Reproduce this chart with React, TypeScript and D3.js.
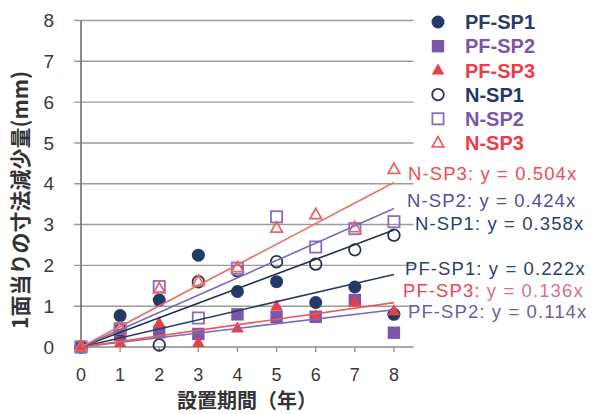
import React from 'react';
import * as d3 from 'd3';

const years = [0, 1, 2, 3, 4, 5, 6, 7, 8];
const pfSp1 = [0, 0.77, 1.15, 2.25, 1.36, 1.6, 1.09, 1.47, 0.8];
const pfSp2 = [0, 0.3, 0.36, 0.32, 0.8, 0.74, 0.74, 1.15, 0.35];
const pfSp3 = [0, 0.1, 0.58, 0.1, 0.46, 1.0, 0.76, 1.1, 0.88];
const nSp1 = [0, 0.42, 0.05, 1.6, 1.87, 2.09, 2.03, 2.38, 2.74];
const nSp2 = [0, 0.45, 1.48, 0.71, 1.93, 3.19, 2.45, 2.9, 3.07];
const nSp3 = [0, 0.45, 1.42, 1.6, 1.94, 2.91, 3.24, 2.92, 4.35];
const seriesNames = ['PF-SP1', 'PF-SP2', 'PF-SP3', 'N-SP1', 'N-SP2', 'N-SP3'];
const seriesValues = [pfSp1, pfSp2, pfSp3, nSp1, nSp2, nSp3];
const slopes = [0.222, 0.114, 0.136, 0.358, 0.424, 0.504];
const yTicks = [0, 1, 2, 3, 4, 5, 6, 7, 8];
const xTicks = [0, 1, 2, 3, 4, 5, 6, 7, 8];

const markerShape = ['circle', 'square', 'triangle', 'circle', 'square', 'triangle'];
const markerFilled = [true, true, true, false, false, false];
const markerColor = ['#233a68', '#7b57a8', '#ea3f48', '#2c3548', '#8a6cc2', '#ea6466'];
const legendColor = ['#2b3a6a', '#7a56a8', '#ec3c48', '#27366a', '#7a56a8', '#ec3c48'];
const lineColor = ['#2a3a5c', '#7b6ab8', '#ea5a5a', '#25324c', '#7a6ab6', '#ec6e6a'];
const eqColor = ['#2d3f6c', '#6b5fa2', '#ec4650', '#2d3f6c', '#574e94', '#ec4e54'];
// label positions: [x start, baseline]
const eqPos: [number, number][] = [
  [405, 275],
  [408, 318],
  [403, 297],
  [415, 230],
  [407, 207],
  [408, 180],
];

function Marker({ shape, filled, color, cx, cy }: any) {
  const s = 6.2;
  const fill = filled ? color : 'none';
  const stroke = color;
  const sw = filled ? 0 : 1.8;
  if (shape === 'circle') {
    return <circle cx={cx} cy={cy} r={filled ? 6.5 : 5.8} fill={fill} stroke={stroke} strokeWidth={sw} />;
  }
  if (shape === 'square') {
    const h = filled ? s : s - 0.6;
    return <rect x={cx - h} y={cy - h} width={2 * h} height={2 * h} fill={fill} stroke={stroke} strokeWidth={sw} />;
  }
  const r = filled ? 7 : 6.4;
  const pts = [
    [cx, cy - r],
    [cx + r * 0.9, cy + r * 0.6],
    [cx - r * 0.9, cy + r * 0.6],
  ];
  return <polygon points={pts.map((p) => p.join(',')).join(' ')} fill={fill} stroke={stroke} strokeWidth={sw} strokeLinejoin="miter" />;
}

export default function App() {
  const x = d3.scaleLinear().domain([0, 8.5]).range([81, 413.5]);
  const y = d3.scaleLinear().domain([0, 8]).range([347, 20.5]);
  const font = '"Liberation Sans", Arial, sans-serif';
  const cjk = '"Noto Sans CJK JP", sans-serif';

  return (
    <svg width={591} height={414} style={{ position: 'absolute', left: 0, top: 0, background: '#fff' }}>
      {/* gridlines */}
      {yTicks.filter((t) => t > 0).map((t) => (
        <line key={'g' + t} x1={74} x2={x(8.5)} y1={y(t)} y2={y(t)} stroke="#9a9a9a" strokeWidth={1.4} />
      ))}
      {/* axes */}
      <line x1={x(0)} x2={x(0)} y1={y(8)} y2={y(0)} stroke="#707070" strokeWidth={1.6} />
      <line x1={74} x2={x(8.5)} y1={y(0)} y2={y(0)} stroke="#8a8a8a" strokeWidth={1.5} />
      {xTicks.map((t) => (
        <line key={'xt' + t} x1={x(t)} x2={x(t)} y1={y(0)} y2={y(0) + 5} stroke="#8a8a8a" strokeWidth={1.3} />
      ))}
      {/* y tick labels */}
      {yTicks.map((t) => (
        <text key={'yl' + t} x={54} y={y(t)} dy="0.35em" textAnchor="end" fontFamily={font} fontSize={19} fill="#3a3a3a">
          {t}
        </text>
      ))}
      {/* x tick labels */}
      {xTicks.map((t) => (
        <text key={'xl' + t} x={x(t)} y={381} textAnchor="middle" fontFamily={font} fontSize={18} fill="#3a3a3a">
          {t}
        </text>
      ))}
      {/* axis titles */}
      <text x={247} y={408} textAnchor="middle" fontFamily={cjk} fontWeight={700} fontSize={20} fill="#333">
        設置期間（年）
      </text>
      <text
        transform={`translate(28,200) rotate(-90)`}
        textAnchor="middle"
        fontFamily={cjk}
        fontWeight={700}
        fontSize={21}
        fill="#333"
      >
        1面当りの寸法減少量(mm)
      </text>
      {/* markers */}
      {seriesValues.map((vals, si) =>
        vals.map((v, i) => (
          <Marker
            key={si + '-' + i}
            shape={markerShape[si]}
            filled={markerFilled[si]}
            color={markerColor[si]}
            cx={x(years[i])}
            cy={y(v)}
          />
        ))
      )}
      {/* trend lines */}
      {slopes.map((k, si) => (
        <path
          key={'tl' + si}
          d={d3.line<number>().x((d) => x(d)).y((d) => y(k * d))([0, 8]) as string}
          fill="none"
          stroke={lineColor[si]}
          strokeWidth={1.6}
        />
      ))}
      {/* equation labels */}
      {slopes.map((k, si) => (
        <text
          key={'eq' + si}
          x={eqPos[si][0]}
          y={eqPos[si][1]}
          fontFamily={font}
          fontSize={18.5}
          letterSpacing={1.1}
          fill={eqColor[si]}
        >
          {si === 2 ? (
            <>
              <tspan>{seriesNames[si] + ':'}</tspan>
              <tspan fill="#d9708a">{' y = ' + k.toFixed(3) + 'x'}</tspan>
            </>
          ) : (
            `${seriesNames[si]}: y = ${k.toFixed(3)}x`
          )}
        </text>
      ))}
      {/* legend */}
      {seriesNames.map((n, si) => {
        const cy = 22 + si * 24.2;
        return (
          <g key={'lg' + si}>
            <Marker shape={markerShape[si]} filled={markerFilled[si]} color={markerColor[si]} cx={438} cy={cy} />
            <text x={465} y={cy} dy="0.36em" fontFamily={font} fontWeight={700} fontSize={20} fill={legendColor[si]}>
              {n}
            </text>
          </g>
        );
      })}
    </svg>
  );
}
